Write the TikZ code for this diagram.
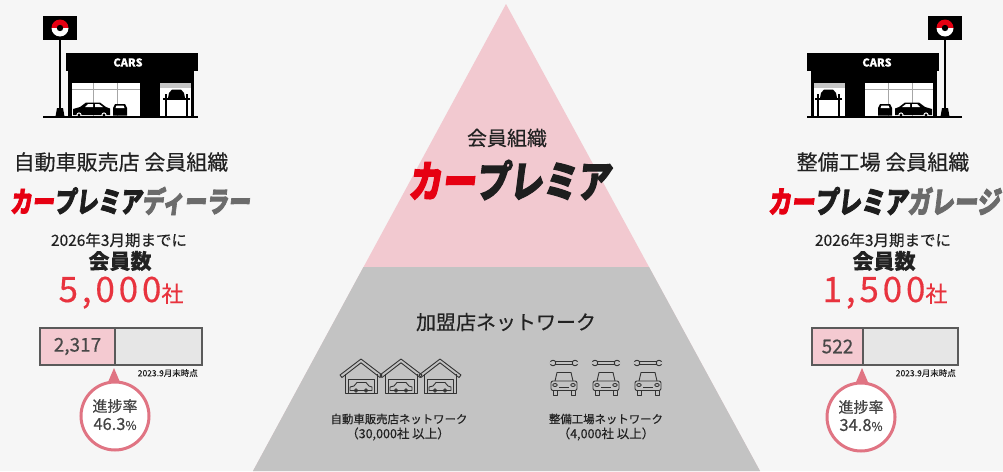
\documentclass[tikz,border=0pt]{standalone}
\usepackage{fontspec}
\usepackage{graphicx}
\setmainfont[FakeBold=0.35]{Noto Sans CJK JP}
\newfontfamily\logofont[FakeSlant=0.16,FakeBold=3]{Noto Sans CJK JP}

\definecolor{bgcol}{HTML}{F6F6F6}
\definecolor{pinktri}{HTML}{F2C9D0}
\definecolor{graytri}{HTML}{C3C3C3}
\definecolor{logored}{HTML}{E60012}
\definecolor{logoblack}{HTML}{1E1E1E}
\definecolor{logogray}{HTML}{6B6B6B}
\definecolor{numred}{HTML}{E8333E}
\definecolor{ringcol}{HTML}{E07483}
\definecolor{barline}{HTML}{5A5A5A}
\definecolor{barpink}{HTML}{F4CAD1}
\definecolor{barempty}{HTML}{E6E6E6}
\definecolor{ink}{HTML}{222222}
\definecolor{iconink}{HTML}{333333}

\newcommand\fs[1]{\fontsize{#1}{#1}\selectfont}

% storefront with sign pole, drawn in its left-hand orientation
\newcommand\drawshop[1]{%
  % sign board with round emblem
  \fill[black] (43,16) rectangle (77,40);
  \begin{scope}
    \clip (60,28) circle[radius=8.5];
    \fill[logored] (50,18) rectangle (70,28);
    \fill[white] (50,28) rectangle (70,38);
  \end{scope}
  \fill[black] (60,28) circle[radius=3.2];
  % pole and foot
  \draw[line width=2.2] (60,40) -- (60,116);
  \fill (55.5,116.5) -- (57,108) -- (63,108) -- (64.5,116.5) -- cycle;
  % roof band with name
  \fill (66,53) rectangle (198,71);
  \node[shoptxt] (#1) at (128,62.5) {CARS};
  % building body
  \fill (68,71) rectangle (194,117);
  \fill[white] (72,83) rectangle (140,116);
  \draw[gray!70, line width=0.8] (93,83) -- (93,116) (117,83) -- (117,116) (72,89) -- (140,89);
  \fill[white] (160,83) rectangle (191,116);
  \fill[gray!45] (160,83) rectangle (191,88);
  % lift with raised car
  \draw[line width=1.6] (166,94) -- (166,116) (187,94) -- (187,116);
  \draw[line width=1.6] (163,99) -- (190,99);
  \fill (168,98) -- (169,93) -- (172,89.5) -- (181,89.5) -- (184,93) -- (185,98) -- cycle;
  % sedan behind the window
  \fill (73,115) -- (73,109) -- (80,107) -- (86,102.5) -- (100,102.5) -- (106,107) -- (110,108.5) -- (110,115) -- cycle;
  \fill[white] (85,107) -- (88,104) -- (93,104) -- (93,107) -- cycle;
  \fill[white] (95,107) -- (95,104) -- (99,104) -- (103,107) -- cycle;
  \fill[white] (79,115) circle[radius=2.6] (104,115) circle[radius=2.6];
  \fill (79,115) circle[radius=1.6] (104,115) circle[radius=1.6];
  % small car seen from the front
  \fill (113,115.5) -- (113,108) -- (115,104) -- (125,104) -- (127,108) -- (127,115.5) -- cycle;
  \fill[white] (115.5,108) -- (116.5,105.5) -- (123.5,105.5) -- (124.5,108) -- cycle;
  % ground line
  \draw[line width=2] (43,117) -- (198,117);
}

\tikzset{
  lbl/.style={inner sep=0pt, text=ink},
  shoptxt/.style={inner sep=0pt, text=white, font=\fs{11}\bfseries},
  icon/.style={draw=iconink, line width=0.9, line join=round},
  barcell/.style={draw=barline, line width=2},
  ring/.style={draw=ringcol, line width=3, fill=white},
  house/.pic={
    \draw[icon] (-21,15) -- (0,-1) -- (21,15) -- (19,17.5) -- (0,2.8) -- (-19,17.5) -- cycle;
    \draw[icon] (-16,14) -- (-16,33) -- (16,33) -- (16,14);
    \draw[icon] (-13,33) -- (-13,19.5) -- (13,19.5) -- (13,33);
    \draw[icon] (-11,30.5) -- (-11,27) -- (-7,26) -- (-4,22.5) -- (5,22.5) -- (8,26) -- (11,27) -- (11,30.5) -- cycle;
    \draw[icon] (-5,30.5) circle[radius=1.8] (5,30.5) circle[radius=1.8];
  },
  wrenchcar/.pic={
    \draw[icon] (-9,1.6) -- (9,1.6) (-9,4.4) -- (9,4.4);
    \draw[icon] (-11,3) circle[radius=2.8] (11,3) circle[radius=2.8];
    \fill[graytri] (-14.5,2.2) rectangle (-12,3.8) (12,2.2) rectangle (14.5,3.8);
    \draw[icon] (-9,21) -- (-7,12.5) -- (7,12.5) -- (9,21);
    \draw[icon, rounded corners=2] (-13,21) rectangle (13,30.5);
    \draw[icon] (-11,30.5) -- (-11,35) -- (-7,35) -- (-7,30.5);
    \draw[icon] (7,30.5) -- (7,35) -- (11,35) -- (11,30.5);
    \draw[icon] (-9,25) ellipse[x radius=2.2, y radius=1.5] (9,25) ellipse[x radius=2.2, y radius=1.5];
    \draw[icon] (-5,27.5) -- (5,27.5);
  }
}

\begin{document}
\begin{tikzpicture}[x=1pt, y=-1pt]
  \useasboundingbox (0,0) rectangle (1003,471);
  \fill[bgcol] (0,0) rectangle (1003,471);

  % pyramid: member organisation on top, partner network below
  \coordinate (apex) at (506,4);
  \coordinate (midL) at (363.5,267);
  \coordinate (midR) at (649,267);
  \coordinate (botL) at (253,471);
  \coordinate (botR) at (760,471);
  \fill[pinktri] (apex) -- (botL) -- (botR) -- cycle;
  \fill[graytri] (midL) -- (midR) -- (botR) -- (botL) -- cycle;

  \node[lbl, font=\fs{20}] (topcap) at (507,138) {会員組織};
  \node[inner sep=0pt] (toplogo) at (509,180)
    {\resizebox*{202pt}{40pt}{\logofont\bfseries\textcolor{logored}{カー}\textcolor{logoblack}{プレミア}}};

  \node[lbl, font=\fs{20}] (netcap) at (506,322) {加盟店ネットワーク};

  \foreach \cx [count=\i] in {361,401,440}
    \pic (home\i) at (\cx,360) {house};
  \foreach \cx [count=\i] in {564,606,648}
    \pic (garage\i) at (\cx,360) {wrenchcar};

  \node[lbl, font=\fs{11.4}] (dealnet) at (399,419) {自動車販売店ネットワーク};
  \node[lbl, font=\fs{12.5}] (dealnum) at (398,434) {（30,000社 以上）};
  \node[lbl, font=\fs{11.4}] (garnet) at (606,419) {整備工場ネットワーク};
  \node[lbl, font=\fs{12.5}] (garnum) at (606,434) {（4,000社 以上）};

  % ---- dealer side ----
  \drawshop{carsL}
  \node[lbl, font=\fs{21}] (dealhead) at (121,162) {自動車販売店 会員組織};
  \node[inner sep=0pt] (deallogo) at (130,201)
    {\resizebox*{240pt}{28pt}{\logofont\bfseries\textcolor{logored}{カー}\textcolor{logoblack}{プレミア}\textcolor{logogray}{ディーラー}}};
  \node[lbl, font=\fs{15.5}] (dealterm) at (119,240) {2026年3月期までに};
  \node[lbl, font=\fs{21}\bfseries] (dealcnt) at (120,261) {会員数};
  \node[lbl, text=numred, anchor=base] (dealgoal) at (121,302)
    {\fs{35}\addfontfeatures{LetterSpace=11}5,000\fs{22}社};

  \node[barcell, fill=barpink, minimum width=75pt, minimum height=37pt, anchor=north west, inner sep=0pt] (dealdone) at (39,327) {};
  \node[barcell, fill=barempty, minimum width=87pt, minimum height=37pt, anchor=north west, inner sep=0pt] (dealrest) at (114,327) {};
  \node[lbl, text=barline!80!black, font=\fs{19}] (dealval) at (dealdone.center) {2,317};
  \node[lbl, font=\fs{8.5}, anchor=east] (dealdate) at (198,373) {2023.9月末時点};

  \fill[ringcol] (105.5,388) -- (114,368) -- (122.5,388) -- cycle;
  \node[ring, circle, minimum size=68pt, inner sep=0pt] (dealrate) at (115,416) {};
  \node[lbl, text=ink!85, font=\fs{15}] (dealratecap) at (115,406) {進捗率};
  \node[lbl, text=ink!85, font=\fs{16.5}] (dealrateval) at (115,424) {46.3\fs{12}\%};

  % ---- garage side ----
  \begin{scope}[xshift=1005pt, xscale=-1]
    \drawshop{carsR}
  \end{scope}
  \node[lbl, font=\fs{21}] (garhead) at (883,162) {整備工場 会員組織};
  \node[inner sep=0pt] (garlogo) at (884,201)
    {\resizebox*{232pt}{28pt}{\logofont\bfseries\textcolor{logored}{カー}\textcolor{logoblack}{プレミア}\textcolor{logogray}{ガレージ}}};
  \node[lbl, font=\fs{15.5}] (garterm) at (883,240) {2026年3月期までに};
  \node[lbl, font=\fs{21}\bfseries] (garcnt) at (884,261) {会員数};
  \node[lbl, text=numred, anchor=base] (gargoal) at (885,302)
    {\fs{35}\addfontfeatures{LetterSpace=11}1,500\fs{22}社};

  \node[barcell, fill=barpink, minimum width=51pt, minimum height=37pt, anchor=north west, inner sep=0pt] (gardone) at (811,327) {};
  \node[barcell, fill=barempty, minimum width=95pt, minimum height=37pt, anchor=north west, inner sep=0pt] (garrest) at (862,327) {};
  \node[lbl, text=barline!80!black, font=\fs{19}] (garval) at (gardone.center) {522};
  \node[lbl, font=\fs{8.5}, anchor=east] (gardate) at (956,373) {2023.9月末時点};

  \fill[ringcol] (853.5,388) -- (862,368) -- (870.5,388) -- cycle;
  \node[ring, circle, minimum size=68pt, inner sep=0pt] (garrate) at (861,417) {};
  \node[lbl, text=ink!85, font=\fs{15}] (garratecap) at (861,407) {進捗率};
  \node[lbl, text=ink!85, font=\fs{16.5}] (garrateval) at (861,425) {34.8\fs{12}\%};
\end{tikzpicture}
\end{document}
